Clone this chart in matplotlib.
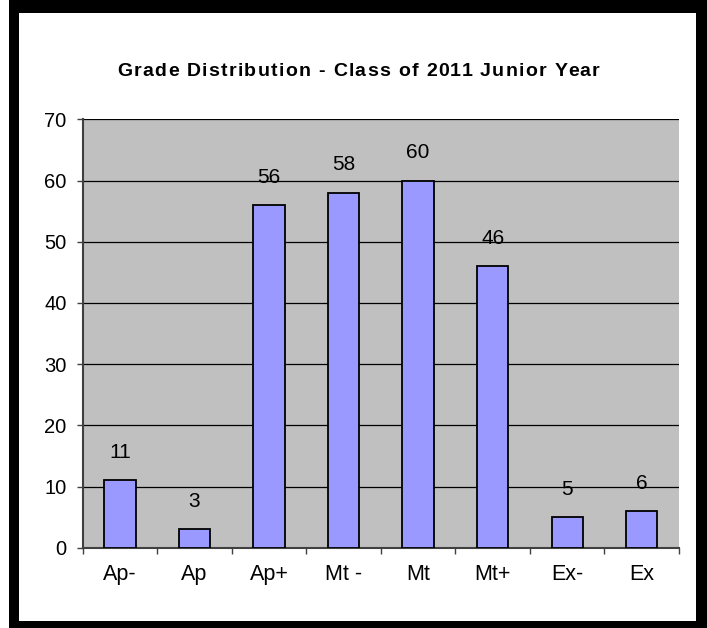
import matplotlib
matplotlib.use("Agg")
import matplotlib.pyplot as plt
from matplotlib.patches import Rectangle
from matplotlib import font_manager
import numpy as np

categories = ["Ap-", "Ap", "Ap+", "Mt -", "Mt", "Mt+", "Ex-", "Ex"]
counts = [11, 3, 56, 58, 60, 46, 5, 6]
title = "Grade Distribution - Class of 2011 Junior Year"
yticks = [0, 10, 20, 30, 40, 50, 60, 70]

W, H = 707, 628
plt.rcParams['font.family'] = ['Liberation Sans', 'DejaVu Sans']
fig = plt.figure(figsize=(W / 100, H / 100), dpi=100)
fig.patch.set_facecolor('white')

names = {f.name for f in font_manager.fontManager.ttflist}
narrow = 'Liberation Sans Narrow' if 'Liberation Sans Narrow' in names else 'Liberation Sans'

# axes placement in pixels
left, right, top, bottom = 82.7, 679, 119.3, 547.7
ax = fig.add_axes([left / W, 1 - bottom / H, (right - left) / W, (bottom - top) / H])
ax.set_facecolor('#C0C0C0')

x = np.arange(len(categories))
bars = ax.bar(x, counts, width=0.42, color='#9999FF', edgecolor='black', linewidth=1.3, zorder=3)
for xi, v in zip(x, counts):
    ax.annotate(str(v), (xi, v), xytext=(0, 20), textcoords='offset points',
                ha='center', va='center', fontsize=15, color='black')

ax.set_xlim(-0.5, len(categories) - 0.5)
ax.set_ylim(0, 70)
ax.set_yticks(yticks)
ax.set_yticklabels([str(t) for t in yticks], fontsize=14.5)
ax.yaxis.grid(True, color='black', linewidth=0.9, zorder=1)
ax.set_axisbelow(True)

ax.set_xticks(x)
ax.set_xticklabels(categories, fontsize=17 if narrow != 'Liberation Sans' else 15.5,
                   family=[narrow, 'DejaVu Sans'])
ax.set_xticks(np.arange(len(categories) + 1) - 0.5, minor=True)
ax.tick_params(axis='x', which='major', length=0, pad=11.5)
ax.tick_params(axis='x', which='minor', length=4.5, width=1, color='#404040', direction='out')
ax.tick_params(axis='y', length=4.5, width=1, color='#404040', direction='out', pad=7)

for s in ['top', 'right']:
    ax.spines[s].set_visible(False)
ax.spines['left'].set_color('#404040')
ax.spines['left'].set_linewidth(1.5)
ax.spines['bottom'].set_color('#404040')
ax.spines['bottom'].set_linewidth(1.5)

# letter-spaced bold title
renderer = fig.canvas.get_renderer()
tfs = 14
def text_w(s):
    t = fig.text(0, 0, s, fontsize=tfs, fontweight='bold')
    w = t.get_window_extent(renderer).width
    t.remove()
    return w
wx = text_w('x')
n = len(title)
offsets = [text_w(title[:i] + 'x') - wx if i > 0 else 0.0 for i in range(n)]
natural = text_w(title)
target = 482.0
spacing = max(0.0, (target - natural) / (n - 1))
start = 358 - (natural + spacing * (n - 1)) / 2
ty = 1 - 72 / H
for i, ch in enumerate(title):
    if ch == ' ':
        continue
    fig.text((start + offsets[i] + i * spacing) / W, ty, ch, ha='left', va='center',
             fontsize=tfs, fontweight='bold')

# outer black frame
def px_rect(x0, y0, x1, y1):
    fig.add_artist(Rectangle((x0 / W, 1 - y1 / H), (x1 - x0) / W, (y1 - y0) / H,
                             transform=fig.transFigure, facecolor='black',
                             edgecolor='none', zorder=10))

px_rect(9, 0, 19, 628)     # left
px_rect(9, 0, 707, 13)     # top
px_rect(696, 0, 707, 628)  # right
px_rect(9, 621, 707, 628)  # bottom

fig.savefig('out.png', dpi=100)
